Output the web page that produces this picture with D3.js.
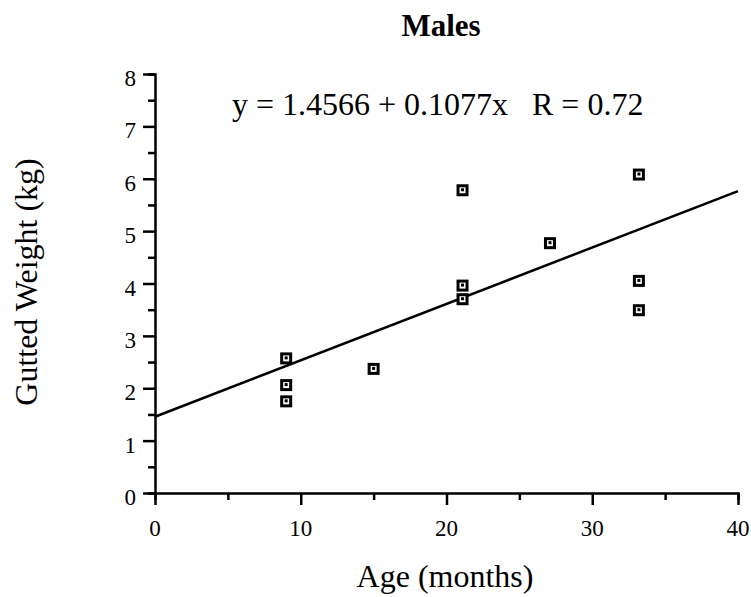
<!DOCTYPE html>
<html>
<head>
<meta charset="utf-8">
<script src="https://cdn.jsdelivr.net/npm/d3@7"></script>
<style>
  body { margin: 0; background: #fff; }
  text { font-family: "Liberation Serif", "Times New Roman", serif; fill: #000; }
</style>
</head>
<body>
<script>
// data
var ages    = [9, 9, 9, 15, 21.1, 21.1, 21.1, 27.1, 33.2, 33.2, 33.2];
var weights = [2.57, 2.06, 1.75, 2.37, 5.78, 3.96, 3.70, 4.77, 6.08, 4.05, 3.49];
var intercept = 1.4566, slope = 0.1077;
var xTicks = [0, 10, 20, 30, 40];
var yTicks = [0, 1, 2, 3, 4, 5, 6, 7, 8];

var width = 751, height = 597;
var margin = {top: 74, right: 13, bottom: 104, left: 155};

var svg = d3.select("body").append("svg")
    .attr("width", width)
    .attr("height", height);

var x = d3.scaleLinear().domain([0, 40]).range([margin.left, width - margin.right]);
var y = d3.scaleLinear().domain([0, 8]).range([height - margin.bottom, margin.top]);

// x axis, majors every 10 and minors every 5
var gx = svg.append("g").attr("transform", "translate(0," + y(0) + ")");
gx.call(d3.axisBottom(x).tickValues(d3.range(0, 41, 5)).tickSize(7).tickFormat(""));
gx.call(function(g) {
  g.selectAll(".tick").filter(function(d) { return d % 10 === 0; })
    .select("line").attr("y2", 12);
});
gx.selectAll("text").remove();
xTicks.forEach(function(t) {
  gx.append("text").attr("x", x(t)).attr("y", 43)
    .attr("text-anchor", "middle").attr("font-size", 23).text(t);
});

// y axis, majors every 1 and minors every .5
var gy = svg.append("g").attr("transform", "translate(" + x(0) + ",0)");
gy.call(d3.axisLeft(y).tickValues(d3.range(0, 8.01, 0.5)).tickSize(7).tickFormat(""));
gy.call(function(g) {
  g.selectAll(".tick").filter(function(d) { return d % 1 === 0; })
    .select("line").attr("x2", -12);
});
yTicks.forEach(function(t) {
  gy.append("text").attr("x", -19).attr("y", y(t) + 4).attr("dy", "0.35em")
    .attr("text-anchor", "end").attr("font-size", 23).text(t);
});

svg.selectAll(".domain").attr("stroke", "#000").attr("stroke-width", 2.5);
svg.selectAll(".tick line").attr("stroke", "#000").attr("stroke-width", 2.5);

// regression line
svg.append("line")
    .attr("x1", x(0)).attr("y1", y(intercept))
    .attr("x2", x(40)).attr("y2", y(intercept + slope * 40))
    .attr("stroke", "#000").attr("stroke-width", 2.5);

// markers: hollow square with a dot inside
var pts = svg.append("g").selectAll("g")
    .data(ages.map(function(a, i) { return [a, weights[i]]; }))
  .enter().append("g")
    .attr("transform", function(d) { return "translate(" + x(d[0]) + "," + y(d[1]) + ")"; });
pts.append("rect").attr("x", -4.5).attr("y", -4.5).attr("width", 9).attr("height", 9)
    .attr("fill", "#fff").attr("stroke", "#000").attr("stroke-width", 3);
pts.append("rect").attr("x", -1.5).attr("y", -2).attr("width", 3).attr("height", 3)
    .attr("fill", "#000");

// texts
svg.append("text").attr("x", 441).attr("y", 36).attr("text-anchor", "middle")
    .attr("font-size", 31).attr("font-weight", "bold").text("Males");
svg.append("text").attr("x", 232).attr("y", 115)
    .attr("font-size", 32).text("y = 1.4566 + 0.1077x");
svg.append("text").attr("x", 532).attr("y", 115)
    .attr("font-size", 32).text("R = 0.72");
svg.append("text").attr("x", 445).attr("y", 587).attr("text-anchor", "middle")
    .attr("font-size", 32).text("Age (months)");
svg.append("text").attr("transform", "translate(37,282) rotate(-90)")
    .attr("text-anchor", "middle").attr("font-size", 32).text("Gutted Weight (kg)");
</script>
</body>
</html>
